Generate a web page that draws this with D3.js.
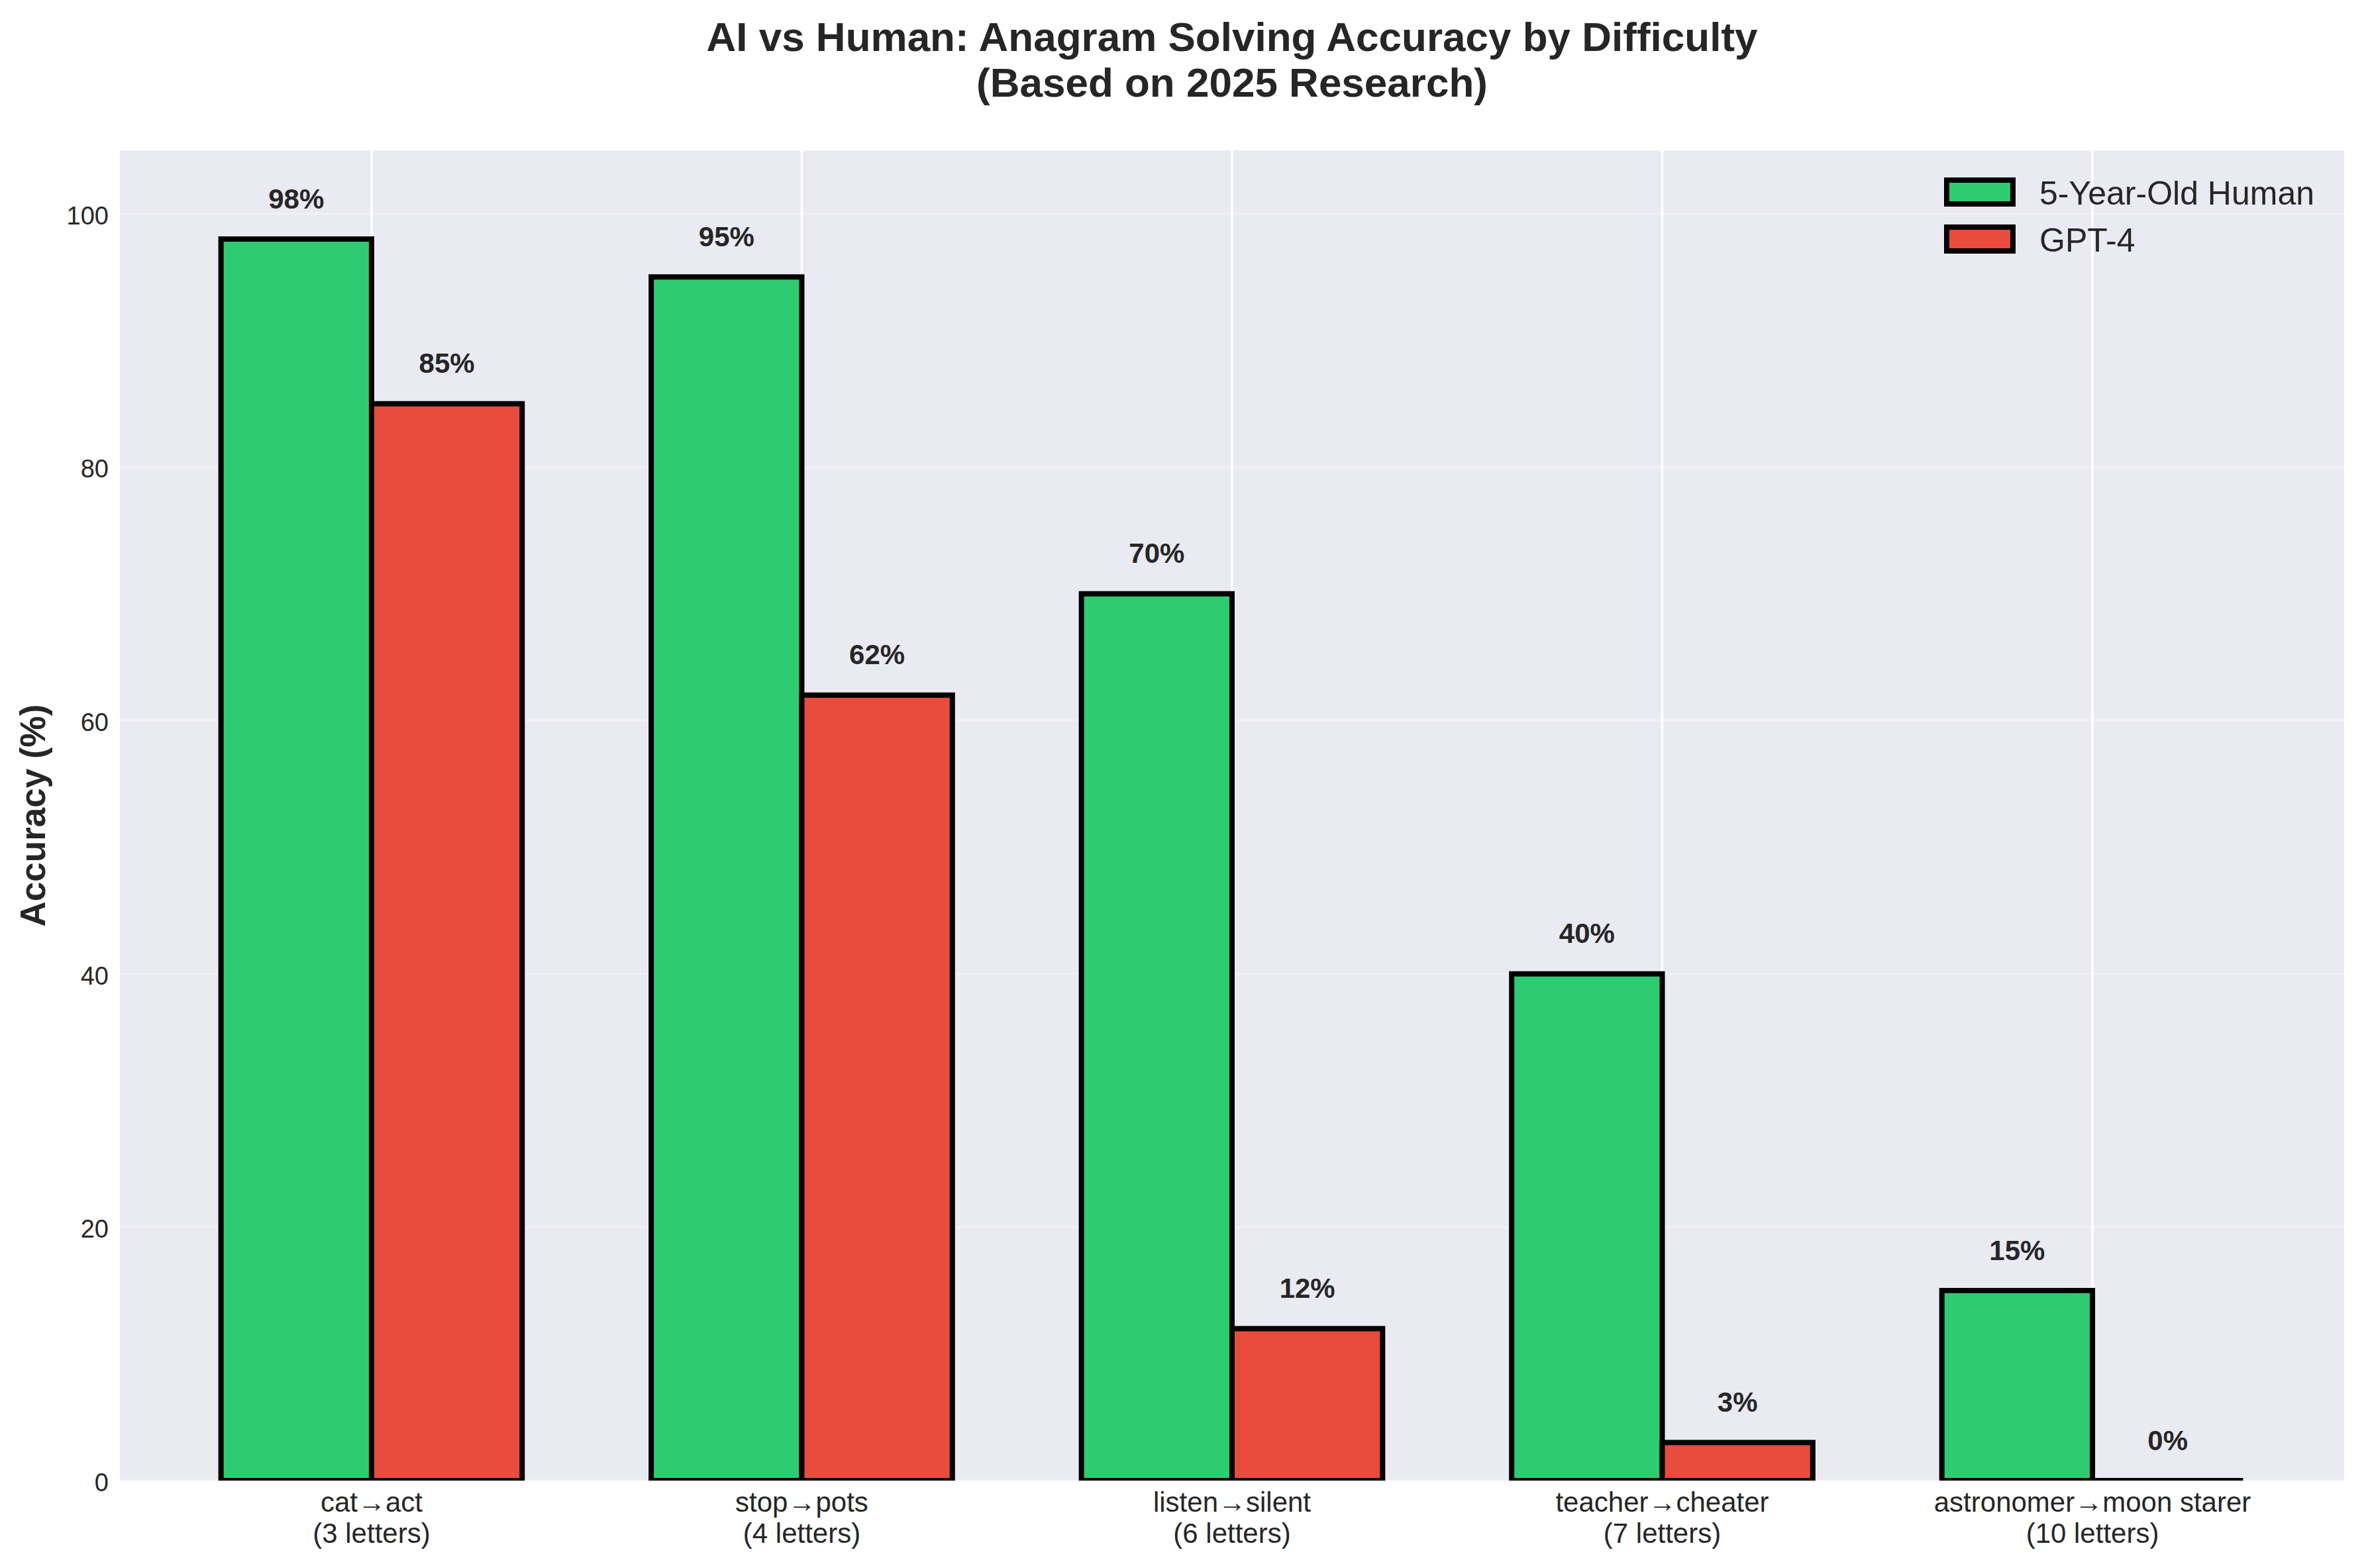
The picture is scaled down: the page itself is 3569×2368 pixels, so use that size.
<!DOCTYPE html>
<html>
<head>
<meta charset="utf-8">
<script src="https://cdn.jsdelivr.net/npm/d3@7"></script>
<style>
  html, body { margin: 0; padding: 0; background: #fff; }
  svg { display: block; font-family: "Liberation Sans", Arial, sans-serif; }
</style>
</head>
<body>
<div id="chart"></div>
<script>
const pairs = ['cat\u2192act', 'stop\u2192pots', 'listen\u2192silent', 'teacher\u2192cheater', 'astronomer\u2192moon starer'];
const letterCounts = ['(3 letters)', '(4 letters)', '(6 letters)', '(7 letters)', '(10 letters)'];
const humanScores = [98, 95, 70, 40, 15];
const gptScores = [85, 62, 12, 3, 0];
const yTicks = [0, 20, 40, 60, 80, 100];
const seriesNames = ['5-Year-Old Human', 'GPT-4'];
const seriesColors = ['#2ecc71', '#e74c3c'];

const width = 3569;
const height = 2368;
const plot = { left: 181, right: 3539, top: 227, bottom: 2236 };
const barWidth = 0.35;
const textColor = '#262626';

const svg = d3.select('#chart')
  .append('svg')
  .attr('width', width)
  .attr('height', height)
  .attr('viewBox', `0 0 ${width} ${height}`);

const xScale = d3.scaleLinear()
  .domain([-0.585, pairs.length - 1 + 0.585])
  .range([plot.left, plot.right]);

const yScale = d3.scaleLinear()
  .domain([0, 105])
  .range([plot.bottom, plot.top]);

// plot background
svg.append('rect')
  .attr('x', plot.left)
  .attr('y', plot.top)
  .attr('width', plot.right - plot.left)
  .attr('height', plot.bottom - plot.top)
  .attr('fill', '#eaeaf2');

svg.append('clipPath')
  .attr('id', 'plot-clip')
  .append('rect')
  .attr('x', plot.left)
  .attr('y', plot.top)
  .attr('width', plot.right - plot.left)
  .attr('height', plot.bottom - plot.top);

// gridlines
const grid = svg.append('g').attr('clip-path', 'url(#plot-clip)');
grid.selectAll('line.hgrid')
  .data(yTicks)
  .join('line')
  .attr('class', 'hgrid')
  .attr('x1', plot.left)
  .attr('x2', plot.right)
  .attr('y1', (d) => yScale(d))
  .attr('y2', (d) => yScale(d))
  .attr('stroke', '#f0f0f6')
  .attr('stroke-width', 3.8);

grid.selectAll('line.vgrid')
  .data(pairs.map((_, i) => i))
  .join('line')
  .attr('class', 'vgrid')
  .attr('x1', (d) => xScale(d))
  .attr('x2', (d) => xScale(d))
  .attr('y1', plot.top)
  .attr('y2', plot.bottom)
  .attr('stroke', '#ffffff')
  .attr('stroke-width', 3.8);

// bars drawn as closed paths so a zero-height bar still shows its outline
function barPath(d, i, s) {
  const x0 = xScale(i - barWidth + s * barWidth);
  const x1 = xScale(i + s * barWidth);
  const y0 = yScale(0);
  const y1 = yScale(d);
  return `M${x0},${y0}L${x0},${y1}L${x1},${y1}L${x1},${y0}Z`;
}

const bars = svg.append('g').attr('clip-path', 'url(#plot-clip)');
const series = [humanScores, gptScores];
series.forEach((values, s) => {
  bars.append('g')
    .selectAll('path')
    .data(values)
    .join('path')
    .attr('d', (d, i) => barPath(d, i, s))
    .attr('fill', seriesColors[s])
    .attr('stroke', '#000')
    .attr('stroke-width', 8)
    .attr('stroke-linejoin', 'miter');
});

// value labels
series.forEach((values, s) => {
  svg.append('g')
    .selectAll('text')
    .data(values)
    .join('text')
    .attr('x', (d, i) => xScale(i - barWidth / 2 + s * barWidth))
    .attr('y', (d) => yScale(d + 2) - 8)
    .attr('text-anchor', 'middle')
    .attr('font-size', 42)
    .attr('font-weight', 'bold')
    .attr('fill', textColor)
    .text((d) => `${d}%`);
});

// y axis tick labels
svg.append('g')
  .selectAll('text')
  .data(yTicks)
  .join('text')
  .attr('x', 164)
  .attr('y', (d) => yScale(d) + 16)
  .attr('text-anchor', 'end')
  .attr('font-size', 38)
  .attr('fill', textColor)
  .text((d) => d);

// x axis category labels
const xLabels = svg.append('g')
  .selectAll('text')
  .data(pairs)
  .join('text')
  .attr('text-anchor', 'middle')
  .attr('font-size', 42)
  .attr('fill', textColor);
xLabels.append('tspan')
  .attr('x', (d, i) => xScale(i))
  .attr('y', 2283)
  .text((d) => d);
xLabels.append('tspan')
  .attr('x', (d, i) => xScale(i))
  .attr('y', 2330)
  .text((d, i) => letterCounts[i]);

// y axis title
svg.append('text')
  .attr('transform', `translate(68, ${(plot.top + plot.bottom) / 2}) rotate(-90)`)
  .attr('text-anchor', 'middle')
  .attr('font-size', 53)
  .attr('font-weight', 'bold')
  .attr('fill', textColor)
  .text('Accuracy (%)');

// title
const title = svg.append('text')
  .attr('text-anchor', 'middle')
  .attr('font-size', 62)
  .attr('font-weight', 'bold')
  .attr('fill', textColor);
title.append('tspan')
  .attr('x', (plot.left + plot.right) / 2)
  .attr('y', 77)
  .text('AI vs Human: Anagram Solving Accuracy by Difficulty');
title.append('tspan')
  .attr('x', (plot.left + plot.right) / 2)
  .attr('y', 146)
  .text('(Based on 2025 Research)');

// legend
const legend = svg.append('g')
  .selectAll('g')
  .data(seriesNames)
  .join('g')
  .attr('transform', (d, i) => `translate(2939, ${272 + i * 71})`);
legend.append('rect')
  .attr('width', 100)
  .attr('height', 36)
  .attr('fill', (d, i) => seriesColors[i])
  .attr('stroke', '#000')
  .attr('stroke-width', 8);
legend.append('text')
  .attr('x', 140)
  .attr('y', 37)
  .attr('font-size', 50)
  .attr('fill', textColor)
  .text((d) => d);
</script>
</body>
</html>
